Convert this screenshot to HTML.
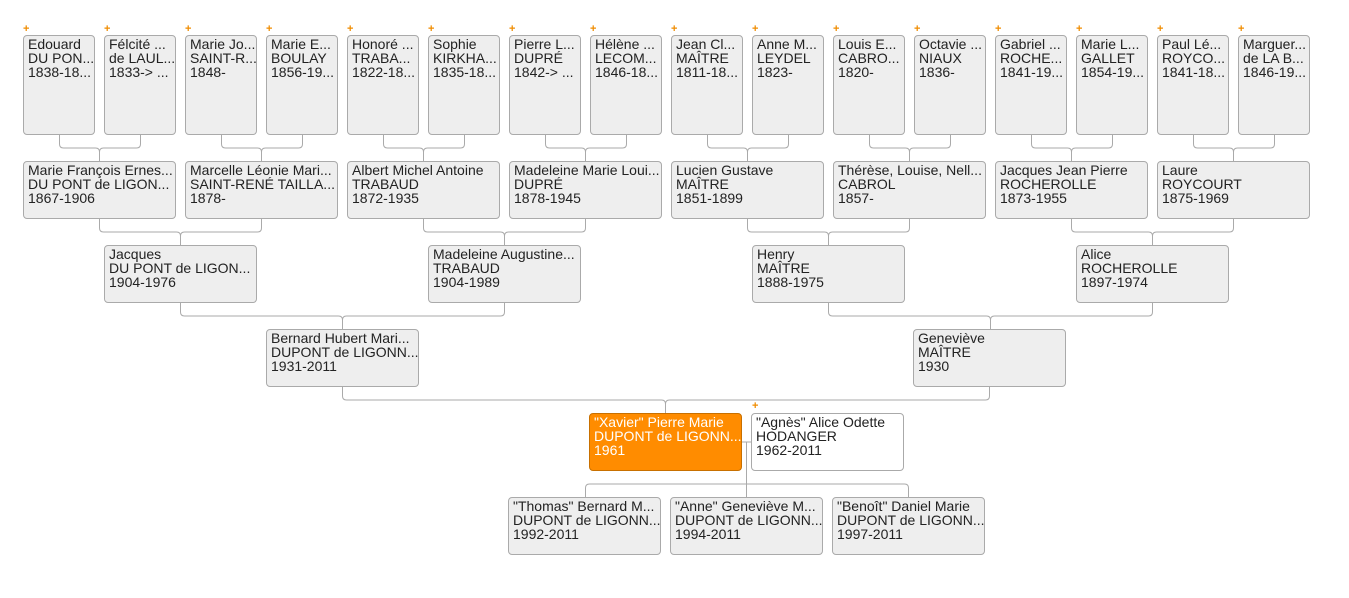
<!DOCTYPE html>
<html><head><meta charset="utf-8"><style>
body{margin:0;width:1349px;height:598px;background:#fff;position:relative;overflow:hidden;font-family:"Liberation Sans",Arial,sans-serif;}
.b{position:absolute;box-sizing:border-box;background:#eee;border:1px solid #aaa;border-radius:4px;padding:1px 0 0 4px;font-size:14px;line-height:14px;color:#222;white-space:nowrap;overflow:hidden;}
.t{width:72px;height:100px;top:35px}
.r{width:153px;height:58px}
.p{position:absolute;color:#f08c00;font-size:11px;line-height:11px;font-weight:bold;top:24px}
svg{position:absolute;left:0;top:0}
</style></head><body>
<svg width="1349" height="598" fill="none" stroke="#aaa" stroke-width="1">
<g id="g1">
<path d="M59.5,135V144Q59.5,148 63.5,148H95.5Q99.5,148 99.5,152V161M140.5,135V144Q140.5,148 136.5,148H103.5Q99.5,148 99.5,152"/>
</g>
<use href="#g1" x="162"/><use href="#g1" x="324"/><use href="#g1" x="486"/><use href="#g1" x="648"/><use href="#g1" x="810"/><use href="#g1" x="972"/><use href="#g1" x="1134"/>
<g id="g2">
<path d="M99.5,219V228Q99.5,232 103.5,232H176.5Q180.5,232 180.5,236V245M261.5,219V228Q261.5,232 257.5,232H184.5Q180.5,232 180.5,236"/>
</g>
<use href="#g2" x="324"/><use href="#g2" x="648"/><use href="#g2" x="972"/>
<g id="g3">
<path d="M180.5,303V312Q180.5,316 184.5,316H338.5Q342.5,316 342.5,320V329M504.5,303V312Q504.5,316 500.5,316H346.5Q342.5,316 342.5,320"/>
</g>
<use href="#g3" x="648"/>
<path d="M342.5,387V396Q342.5,400 346.5,400H661.5Q665.5,400 665.5,404V413M989.5,387V396Q989.5,400 985.5,400H669.5Q665.5,400 665.5,404"/>
<path d="M742,442H752M746.5,442V497M585.5,497V488Q585.5,484 589.5,484H904.5Q908.5,484 908.5,488V497"/>
</svg>
<div class="p" style="left:23px">+</div><div class="p" style="left:104px">+</div><div class="p" style="left:185px">+</div><div class="p" style="left:266px">+</div><div class="p" style="left:347px">+</div><div class="p" style="left:428px">+</div><div class="p" style="left:509px">+</div><div class="p" style="left:590px">+</div><div class="p" style="left:671px">+</div><div class="p" style="left:752px">+</div><div class="p" style="left:833px">+</div><div class="p" style="left:914px">+</div><div class="p" style="left:995px">+</div><div class="p" style="left:1076px">+</div><div class="p" style="left:1157px">+</div><div class="p" style="left:1238px">+</div>
<div class="p" style="left:752px;top:401px">+</div>

<div class="b t" style="left:23px">Edouard<br>DU PON...<br>1838-18...</div>
<div class="b t" style="left:104px">Félcité ...<br>de LAUL...<br>1833-&gt; ...</div>
<div class="b t" style="left:185px">Marie Jo...<br>SAINT-R...<br>1848-</div>
<div class="b t" style="left:266px">Marie E...<br>BOULAY<br>1856-19...</div>
<div class="b t" style="left:347px">Honoré ...<br>TRABA...<br>1822-18...</div>
<div class="b t" style="left:428px">Sophie<br>KIRKHA...<br>1835-18...</div>
<div class="b t" style="left:509px">Pierre L...<br>DUPRÉ<br>1842-&gt; ...</div>
<div class="b t" style="left:590px">Hélène ...<br>LECOM...<br>1846-18...</div>
<div class="b t" style="left:671px">Jean Cl...<br>MAÎTRE<br>1811-18...</div>
<div class="b t" style="left:752px">Anne M...<br>LEYDEL<br>1823-</div>
<div class="b t" style="left:833px">Louis E...<br>CABRO...<br>1820-</div>
<div class="b t" style="left:914px">Octavie ...<br>NIAUX<br>1836-</div>
<div class="b t" style="left:995px">Gabriel ...<br>ROCHE...<br>1841-19...</div>
<div class="b t" style="left:1076px">Marie L...<br>GALLET<br>1854-19...</div>
<div class="b t" style="left:1157px">Paul Lé...<br>ROYCO...<br>1841-18...</div>
<div class="b t" style="left:1238px">Marguer...<br>de LA B...<br>1846-19...</div>

<div class="b r" style="left:23px;top:161px">Marie François Ernes...<br>DU PONT de LIGON...<br>1867-1906</div>
<div class="b r" style="left:185px;top:161px">Marcelle Léonie Mari...<br>SAINT-RENÉ TAILLA...<br>1878-</div>
<div class="b r" style="left:347px;top:161px">Albert Michel Antoine<br>TRABAUD<br>1872-1935</div>
<div class="b r" style="left:509px;top:161px">Madeleine Marie Loui...<br>DUPRÉ<br>1878-1945</div>
<div class="b r" style="left:671px;top:161px">Lucien Gustave<br>MAÎTRE<br>1851-1899</div>
<div class="b r" style="left:833px;top:161px">Thérèse, Louise, Nell...<br>CABROL<br>1857-</div>
<div class="b r" style="left:995px;top:161px">Jacques Jean Pierre<br>ROCHEROLLE<br>1873-1955</div>
<div class="b r" style="left:1157px;top:161px">Laure<br>ROYCOURT<br>1875-1969</div>

<div class="b r" style="left:104px;top:245px">Jacques<br>DU PONT de LIGON...<br>1904-1976</div>
<div class="b r" style="left:428px;top:245px">Madeleine Augustine...<br>TRABAUD<br>1904-1989</div>
<div class="b r" style="left:752px;top:245px">Henry<br>MAÎTRE<br>1888-1975</div>
<div class="b r" style="left:1076px;top:245px">Alice<br>ROCHEROLLE<br>1897-1974</div>

<div class="b r" style="left:266px;top:329px">Bernard Hubert Mari...<br>DUPONT de LIGONN...<br>1931-2011</div>
<div class="b r" style="left:913px;top:329px">Geneviève<br>MAÎTRE<br>1930</div>

<div class="b r" style="left:589px;top:413px;background:#ff8c00;color:#fff;border-color:#c87000">"Xavier" Pierre Marie<br>DUPONT de LIGONN...<br>1961</div>
<div class="b r" style="left:751px;top:413px;background:#fff">"Agnès" Alice Odette<br>HODANGER<br>1962-2011</div>

<div class="b r" style="left:508px;top:497px">"Thomas" Bernard M...<br>DUPONT de LIGONN...<br>1992-2011</div>
<div class="b r" style="left:670px;top:497px">"Anne" Geneviève M...<br>DUPONT de LIGONN...<br>1994-2011</div>
<div class="b r" style="left:832px;top:497px">"Benoît" Daniel Marie<br>DUPONT de LIGONN...<br>1997-2011</div>
</body></html>
